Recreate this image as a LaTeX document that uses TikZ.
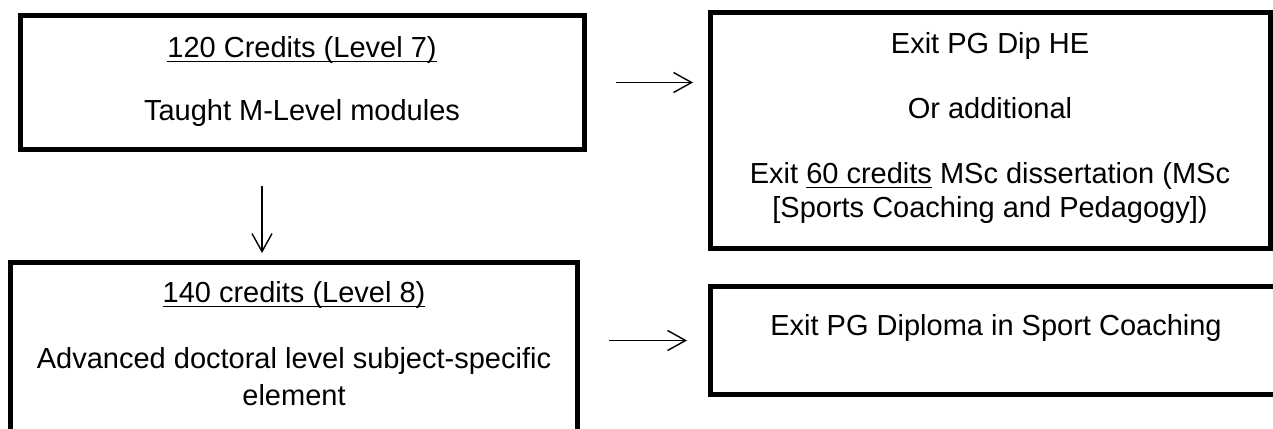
\documentclass[tikz,border=0pt]{standalone}
\usepackage{fontspec}
\setmainfont{Liberation Sans}
\usetikzlibrary{arrows.meta}
\newcommand\myul[1]{\setbox0\hbox{#1}\rlap{\rule[-5pt]{\wd0}{1.5pt}}\box0\relax}
\tikzset{
  boxnode/.style={draw=black, line width=5pt, rectangle, inner sep=0pt, outer sep=0pt, fill=none},
  txt/.style={anchor=base, inner sep=0pt, outer sep=0pt, font=\fontsize{29}{34}\selectfont},
  conn/.style={draw=black, line width=1.4pt, -{Straight Barb[length=18pt,width=20pt,line width=1.4pt]}}
}
\begin{document}
\begin{tikzpicture}[x=1pt,y=-1pt]
\useasboundingbox (0,0) rectangle (1273,428);
\fill[white] (0,0) rectangle (1273,428);
% boxes (centre, width, height measured from line centres)
\node[boxnode, minimum width=564pt, minimum height=134pt] (b1) at (302,82.5) {};
\node[boxnode, minimum width=560pt, minimum height=235.5pt] (b2) at (990,130.25) {};
\node[boxnode, minimum width=566.5pt, minimum height=183pt] (b3) at (293.75,353.5) {};
\node[boxnode, minimum width=580pt, minimum height=108pt] (b4) at (1000,340.5) {};
% texts
\node[txt] (t1a) at (302,57) {\myul{120 Credits (Level 7)}};
\node[txt] (t1b) at (302,120) {Taught M-Level modules};
\node[txt] (t2a) at (990,53) {Exit PG Dip HE};
\node[txt] (t2b) at (990,118) {Or additional};
\node[txt] (t2c) at (990,183) {Exit \myul{60 credits} MSc dissertation (MSc};
\node[txt] (t2d) at (990,217) {[Sports Coaching and Pedagogy])};
\node[txt] (t3a) at (294,302) {\myul{140 credits (Level 8)}};
\node[txt] (t3b) at (294,368) {Advanced doctoral level subject-specific};
\node[txt] (t3c) at (294,405) {element};
\node[txt] (t4) at (996,335) {Exit PG Diploma in Sport Coaching};
% connectors
\draw[conn, shorten <=32pt, shorten >=17pt] (b1.east) -- (b1.east -| b2.west);
\draw[conn, shorten <=36.5pt, shorten >=9pt] ([xshift=-40pt]b1.south) -- ([xshift=-40pt]b1.south |- b3.north);
\draw[conn, shorten <=32pt, shorten >=23pt] (b4.west -| b3.east) -- (b4.west);
\end{tikzpicture}
\end{document}
